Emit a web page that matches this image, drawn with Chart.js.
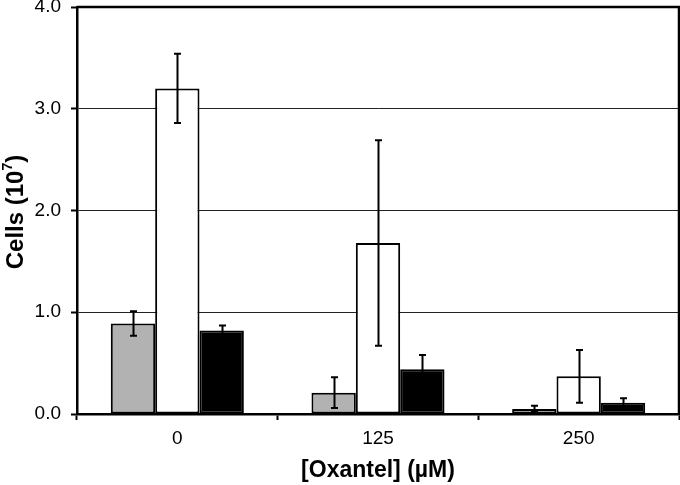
<!DOCTYPE html>
<html>
<head>
<meta charset="utf-8">
<script src="https://cdn.jsdelivr.net/npm/chart.js@4"></script>
<style>
  html, body { margin: 0; padding: 0; background: #fff; }
  #wrap { width: 680px; height: 485px; }
</style>
</head>
<body>
<div id="wrap"><canvas id="chart" width="680" height="485"></canvas></div>
<script>
// data
const doses = ['0', '125', '250'];
const yTicks = [0, 1, 2, 3, 4];

const grayVals = [0.89, 0.21, 0.05];
const grayErr = [0.12, 0.15, 0.03];
const whiteVals = [3.20, 1.68, 0.37];
const whiteErr = [0.34, 1.01, 0.26];
const blackVals = [0.82, 0.44, 0.11];
const blackErr = [0.05, 0.14, 0.045];

const FONT = '"Liberation Sans", Arial, sans-serif';

// error bars, drawn on top of the bars
const errorBars = {
  id: 'errorBars',
  afterDatasetsDraw(chart) {
    const ctx = chart.ctx;
    const y = chart.scales.y;
    chart.data.datasets.forEach((ds, i) => {
      const meta = chart.getDatasetMeta(i);
      meta.data.forEach((bar, j) => {
        const v = ds.data[j], e = ds.err[j];
        const top = y.getPixelForValue(v + e);
        const bot = y.getPixelForValue(Math.max(0, v - e));
        const x = Math.round(bar.x) + 0.5;
        ctx.save();
        ctx.strokeStyle = '#000';
        ctx.lineWidth = 2;
        ctx.beginPath();
        ctx.moveTo(x, top); ctx.lineTo(x, bot);
        ctx.moveTo(x - 3.5, top); ctx.lineTo(x + 3.5, top);
        ctx.moveTo(x - 3.5, bot); ctx.lineTo(x + 3.5, bot);
        ctx.stroke();
        ctx.restore();
      });
    });
  }
};

// frame on top/right plus the axis titles
const frameAndTitles = {
  id: 'frameAndTitles',
  afterDraw(chart) {
    const ctx = chart.ctx;
    const a = chart.chartArea;
    ctx.save();
    ctx.strokeStyle = '#000';
    ctx.lineWidth = 2.5;
    ctx.beginPath();
    ctx.moveTo(a.left, a.top);
    ctx.lineTo(a.right, a.top);
    ctx.lineTo(a.right, a.bottom);
    ctx.stroke();

    ctx.fillStyle = '#000';
    ctx.textBaseline = 'middle';
    ctx.textAlign = 'center';
    ctx.font = 'bold 23px ' + FONT;
    ctx.fillText('[Oxantel] (\u00b5M)', (a.left + a.right) / 2, 471);

    // y title with superscript
    ctx.translate(14, 212);
    ctx.rotate(-Math.PI / 2);
    const main = 'Cells (10';
    ctx.font = 'bold 24px ' + FONT;
    const wMain = ctx.measureText(main).width;
    ctx.font = 'bold 14px ' + FONT;
    const wSup = ctx.measureText('7').width;
    ctx.font = 'bold 24px ' + FONT;
    const wEnd = ctx.measureText(')').width;
    let x0 = -(wMain + wSup + wEnd) / 2;
    ctx.textAlign = 'left';
    ctx.textBaseline = 'alphabetic';
    ctx.fillText(main, x0, 9);
    ctx.font = 'bold 14px ' + FONT;
    ctx.fillText('7', x0 + wMain, -2);
    ctx.font = 'bold 24px ' + FONT;
    ctx.fillText(')', x0 + wMain + wSup, 9);
    ctx.restore();
  }
};

const barBase = {
  borderColor: '#000',
  borderWidth: 2,
  borderSkipped: false,
  categoryPercentage: 0.663,
  barPercentage: 1.0
};

new Chart(document.getElementById('chart'), {
  type: 'bar',
  data: {
    labels: doses,
    datasets: [
      Object.assign({ label: 'gray', data: grayVals, err: grayErr, backgroundColor: '#b2b2b2' }, barBase),
      Object.assign({ label: 'white', data: whiteVals, err: whiteErr, backgroundColor: '#ffffff' }, barBase),
      Object.assign({ label: 'black', data: blackVals, err: blackErr, backgroundColor: '#000000' }, barBase)
    ]
  },
  options: {
    responsive: false,
    animation: false,
    layout: { padding: { left: 0, right: 1, top: 7, bottom: 0 } },
    plugins: { legend: { display: false }, tooltip: { enabled: false } },
    scales: {
      x: {
        grid: { drawOnChartArea: false, drawTicks: true, tickLength: 6, tickColor: '#000', tickWidth: 2, offset: true },
        border: { color: '#000', width: 2.5 },
        ticks: { color: '#000', font: { family: FONT, size: 19 }, padding: 7 },
        afterFit(scale) { scale.height = 71; scale.paddingLeft = 0; scale.paddingRight = 0; }
      },
      y: {
        min: 0,
        max: 4,
        afterBuildTicks(scale) { scale.ticks = yTicks.map(v => ({ value: v })); },
        grid: {
          color: (c) => (c.tick && (c.tick.value === 0 || c.tick.value === 4)) ? 'rgba(0,0,0,0)' : '#222',
          lineWidth: 1,
          drawTicks: true,
          tickLength: 6,
          tickColor: '#000',
          tickWidth: 2
        },
        border: { color: '#000', width: 2.5 },
        ticks: {
          color: '#000',
          font: { family: FONT, size: 19 },
          padding: 10,
          callback: (v) => Number(v).toFixed(1)
        },
        afterFit(scale) { scale.width = 77; scale.paddingTop = 0; scale.paddingBottom = 0; }
      }
    }
  },
  plugins: [errorBars, frameAndTitles]
});
</script>
</body>
</html>
